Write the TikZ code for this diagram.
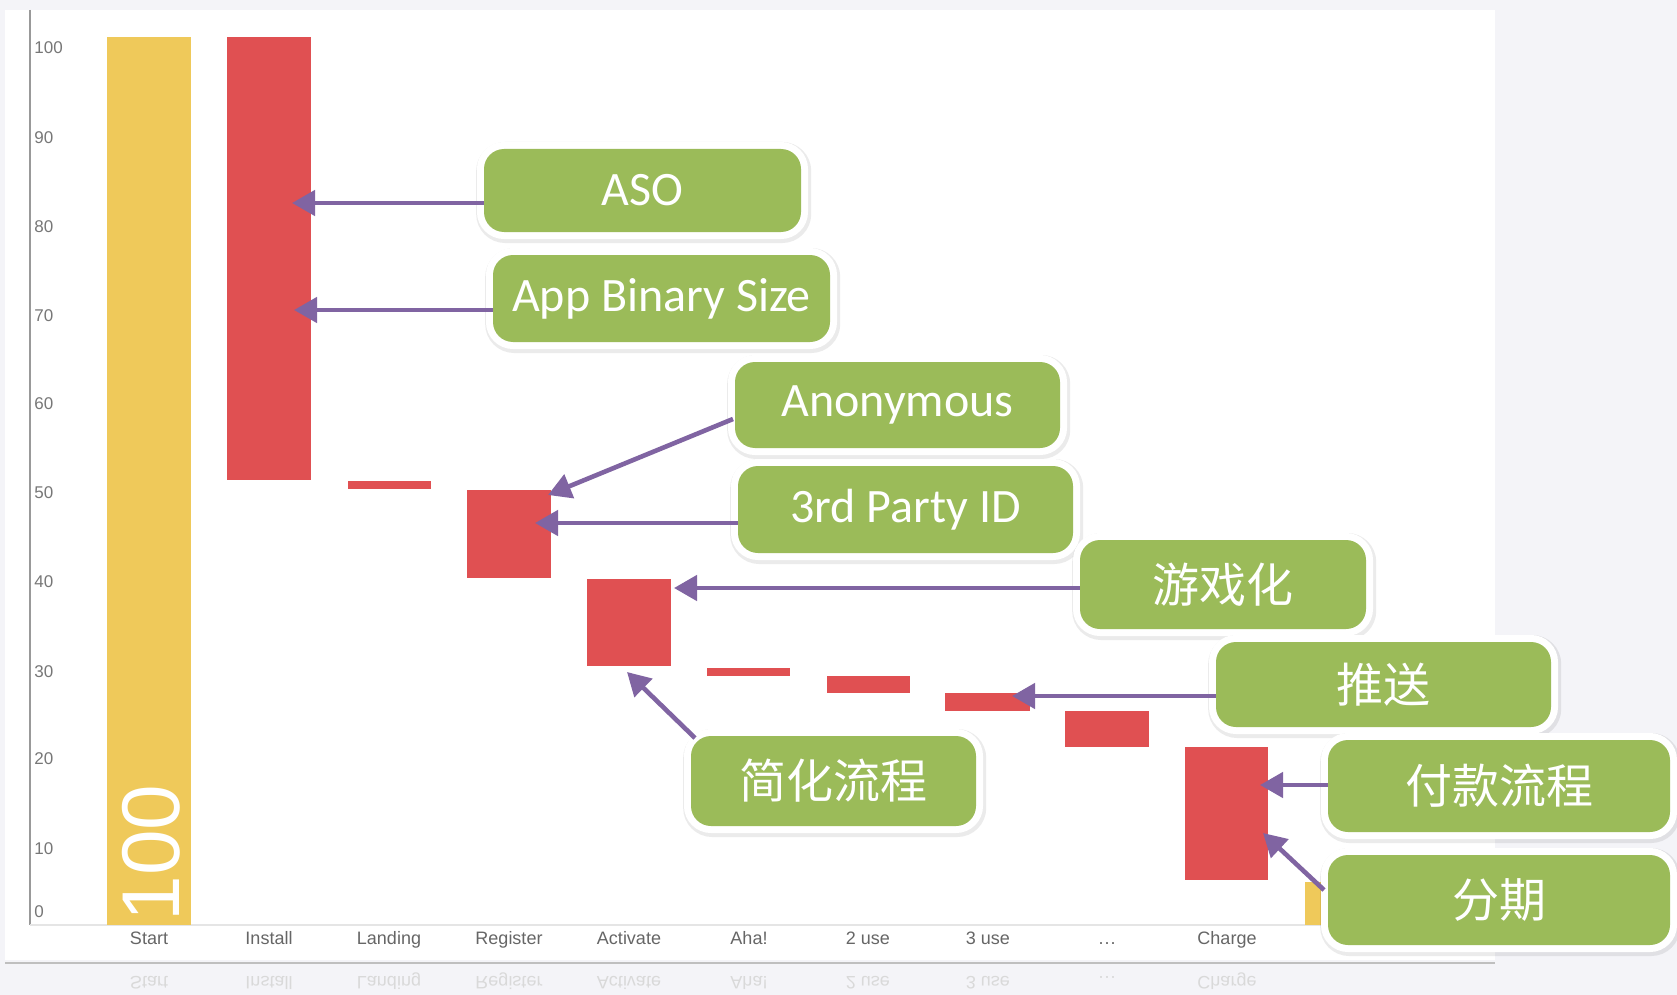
\documentclass[tikz,border=0pt]{standalone}
\usepackage{fontspec}
\setmainfont{Carlito}
\newfontfamily\cjk{Noto Sans CJK SC}
\newfontfamily\axisfont{Liberation Sans}
\usetikzlibrary{arrows.meta}
\definecolor{bgc}{HTML}{F4F4F8}
\definecolor{barY}{HTML}{EFC95A}
\definecolor{barR}{HTML}{E05052}
\definecolor{boxG}{HTML}{9BBB59}
\definecolor{arrP}{HTML}{8064A2}
\definecolor{axT}{HTML}{777777}
\newcommand\mydots{.\kern0.5pt.\kern0.5pt.}
\begin{document}
\begin{tikzpicture}[x=0.5pt,y=-0.5pt,
  gbox/.style={fill=boxG, text=white, inner sep=0pt, rounded corners=10pt,
    font=\fontsize{24}{28}\selectfont,
    preaction={draw=black, draw opacity=0.08, line width=9pt, transform canvas={shift={(0.6pt,-1pt)}}},
    preaction={draw=white, line width=7pt}},
  arr/.style={draw=arrP, line width=2.3pt, -{Triangle[length=11.5pt,width=12.5pt]}},
  ylab/.style={anchor=west, inner sep=0pt, text=axT, font=\axisfont\fontsize{8.5}{10}\selectfont},
  xlab/.style={anchor=base, inner sep=0pt, text=black!60, font=\axisfont\fontsize{9}{11}\selectfont},
  rlab/.style={anchor=base, inner sep=0pt, text=black!15, font=\axisfont\fontsize{9}{11}\selectfont}]
\useasboundingbox (0,0) rectangle (1677,995);
\fill[bgc] (0,0) rectangle (1677,995);
\fill[white] (5,10) rectangle (1495,960);
\draw[black!25, line width=0.6pt] (5,963) -- (1495,963);
% axes
\draw[black!40, line width=0.6pt] (30,10) -- (30,925);
\draw[black!10, line width=0.6pt] (30,925) -- (1495,925);
\foreach \v/\yy in {100/48,90/138,80/227,70/316,60/404,50/493,40/582,30/672,20/759,10/849,0/912}
  \node[ylab] (y\v) at (34,\yy) {\v};
% bars
\fill[barY] (107,37) rectangle (191,925);
\fill[barR] (227,37) rectangle (311,480);
\fill[barR] (348,481) rectangle (431,489);
\fill[barR] (467,490) rectangle (551,578);
\fill[barR] (587,579) rectangle (671,666);
\fill[barR] (707,668) rectangle (790,676);
\fill[barR] (827,676) rectangle (910,693);
\fill[barR] (945,693) rectangle (1030,711);
\fill[barR] (1065,711) rectangle (1149,747);
\fill[barR] (1185,747) rectangle (1268,880);
\fill[barY] (1305,882) rectangle (1389,925);
\node[text=white, rotate=90, inner sep=0pt, font=\axisfont\fontsize{41}{41}\selectfont] (hundred) at (151,853) {100};
% x labels
\foreach \n/\xx/\t in {s/149/Start,i/269/Install,l/389/Landing,r/509/Register,a/629/Activate,h/749/Aha!,u/868/2 use,v/988/3 use,d/1107/\mydots,c/1227/Charge}{
  \node[xlab] (x\n) at (\xx,944) {\t};
  \node[rlab] (m\n) at (\xx,976) {\scalebox{1}[-1]{\t}};
}
% boxes
\node[gbox, minimum width=158.5pt, minimum height=41.5pt] (aso) at (642.5,190.5) {ASO};
\node[gbox, minimum width=168.5pt, minimum height=43.5pt] (abs) at (661.5,298.5) {App Binary Size};
\node[gbox, minimum width=162.5pt, minimum height=43pt] (anon) at (897.5,405) {Anonymous};
\node[gbox, minimum width=167.5pt, minimum height=43.5pt] (tpid) at (905.5,509.5) {3rd Party ID};
\node[gbox, minimum width=143pt, minimum height=44.5pt, font=\cjk\fontsize{23.5}{28}\selectfont] (game) at (1223,584.5) {游戏化};
\node[gbox, minimum width=167.5pt, minimum height=42.5pt, font=\cjk\fontsize{23.5}{28}\selectfont] (push) at (1383.5,684.5) {推送};
\node[gbox, minimum width=142.5pt, minimum height=45pt, font=\cjk\fontsize{23.5}{28}\selectfont] (simp) at (833.5,781) {简化流程};
\node[gbox, minimum width=171pt, minimum height=46pt, font=\cjk\fontsize{23.5}{28}\selectfont] (pay) at (1499,786) {付款流程};
\node[gbox, minimum width=171pt, minimum height=45pt, font=\cjk\fontsize{23.5}{28}\selectfont] (inst) at (1499,900) {分期};
% arrow tips
\coordinate (t1) at (292,203);
\coordinate (t2) at (294,310);
\coordinate (t3) at (548,495);
\coordinate (t4) at (535,523);
\coordinate (t5) at (674,588);
\coordinate (t6) at (1012,696);
\coordinate (t7) at (627,672);
\coordinate (t8) at (1260,785);
\coordinate (t9) at (1263,833);
\coordinate (s3) at (733,419);
\coordinate (s7) at (695,738);
\coordinate (s9) at (1324,890);
\draw[arr] (aso.west |- t1) -- (t1);
\draw[arr] (abs.west |- t2) -- (t2);
\draw[arr] (s3) -- (t3);
\draw[arr] (tpid.west |- t4) -- (t4);
\draw[arr] (game.west |- t5) -- (t5);
\draw[arr] (push.west |- t6) -- (t6);
\draw[arr] (s7) -- (t7);
\draw[arr] (pay.west |- t8) -- (t8);
\draw[arr] (s9) -- (t9);
\end{tikzpicture}
\end{document}
